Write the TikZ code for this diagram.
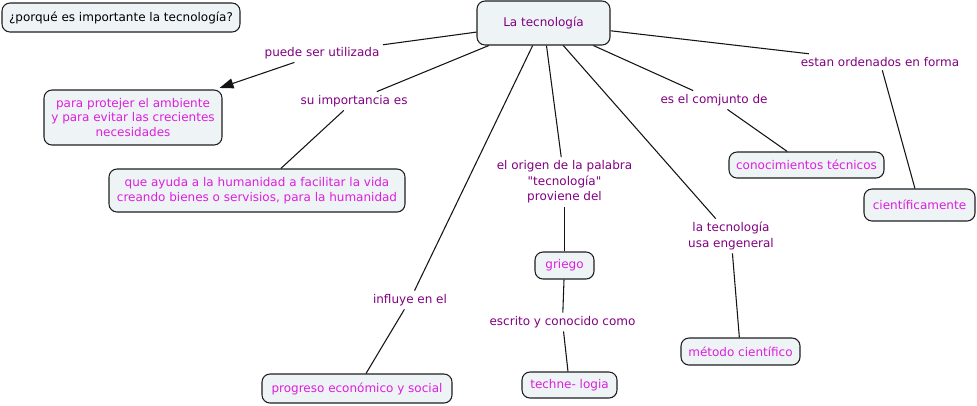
\documentclass[tikz,border=0pt]{standalone}
\usepackage{fontspec}
\setmainfont{DejaVu Sans}[Ligatures=TeXOff]
\usetikzlibrary{arrows.meta}
\definecolor{boxfill}{RGB}{238,243,245}
\definecolor{boxdraw}{RGB}{30,30,30}
\definecolor{nodetext}{RGB}{222,30,222}
\definecolor{labeltext}{RGB}{128,0,128}
\definecolor{linkcol}{RGB}{20,20,20}
\tikzset{
  concept/.style={draw=boxdraw, fill=boxfill, rounded corners=6pt, line width=0.8pt,
    text=nodetext, align=center, inner sep=0pt,
    font=\fontsize{9pt}{11pt}\selectfont},
  linklabel/.style={text=labeltext, align=center, inner sep=2.5pt,
    font=\fontsize{9pt}{11.6pt}\selectfont},
  link/.style={draw=linkcol, line width=0.8pt},
  arrowlink/.style={link, -{Triangle[length=10.5pt,width=7.5pt]}, shorten >=3.5pt}
}
\begin{document}
\begin{tikzpicture}[x=0.75pt,y=-0.75pt]
\useasboundingbox (0,0) rectangle (977,405);
% concepts
\node[concept, text=black, minimum width=178.5pt, minimum height=21.75pt] (q) at (121,17.5) {¿porqué es importante la tecnología?};
\node[concept, text=labeltext, minimum width=99.75pt, minimum height=33pt] (lt) at (543.5,23) {La tecnología};
\node[concept, minimum width=133.5pt, minimum height=41.25pt] (pp) at (133,117.5) {para protejer el ambiente\\y para evitar las crecientes\\necesidades};
\node[concept, minimum width=222pt, minimum height=32.25pt] (qa) at (257,190.5) {que ayuda a la humanidad a facilitar la vida\\creando bienes o servisios, para la humanidad};
\node[concept, minimum width=116.25pt, minimum height=19.5pt] (ct) at (806.5,165) {conocimientos técnicos};
\node[concept, minimum width=83.25pt, minimum height=24pt] (ci) at (919.5,205) {científicamente};
\node[concept, minimum width=44.25pt, minimum height=20.25pt] (gr) at (564.5,265.5) {griego};
\node[concept, minimum width=71.25pt, minimum height=19.5pt] (te) at (569.5,385) {techne- logia};
\node[concept, minimum width=142.5pt, minimum height=21.75pt] (pr) at (357,388.5) {progreso económico y social};
\node[concept, minimum width=89.25pt, minimum height=20.25pt] (me) at (740.5,351.5) {método científico};
% linking phrases
\node[linklabel] (l1) at (322,53) {puede ser utilizada};
\node[linklabel] (l2) at (354,101) {su importancia es};
\node[linklabel] (l3) at (564.5,182) {el origen de la palabra\\"tecnología"\\proviene del};
\node[linklabel] (l4) at (731,236) {la tecnología\\usa engeneral};
\node[linklabel] (l5) at (714,100) {es el comjunto de};
\node[linklabel] (l6) at (880,62) {estan ordenados en forma};
\node[linklabel] (l7) at (410,300) {influye en el};
\node[linklabel] (l8) at (562.5,322) {escrito y conocido como};
% connectors
\draw[link] (lt) -- (l1);
\draw[arrowlink] (l1) -- (pp);
\draw[link] (lt) -- (l2);
\draw[link] (l2) -- (qa);
\draw[link] (lt) -- (l7);
\draw[link] (l7) -- (pr);
\draw[link] (lt) -- (l3);
\draw[link] (l3) -- (gr);
\draw[link] (gr) -- (l8);
\draw[link] (l8) -- (te);
\draw[link] (lt) -- (l4);
\draw[link] (l4) -- (me);
\draw[link] (lt) -- (l5);
\draw[link] (l5) -- (ct);
\draw[link] (lt) -- (l6);
\draw[link] (l6) -- (ci);
\end{tikzpicture}
\end{document}
